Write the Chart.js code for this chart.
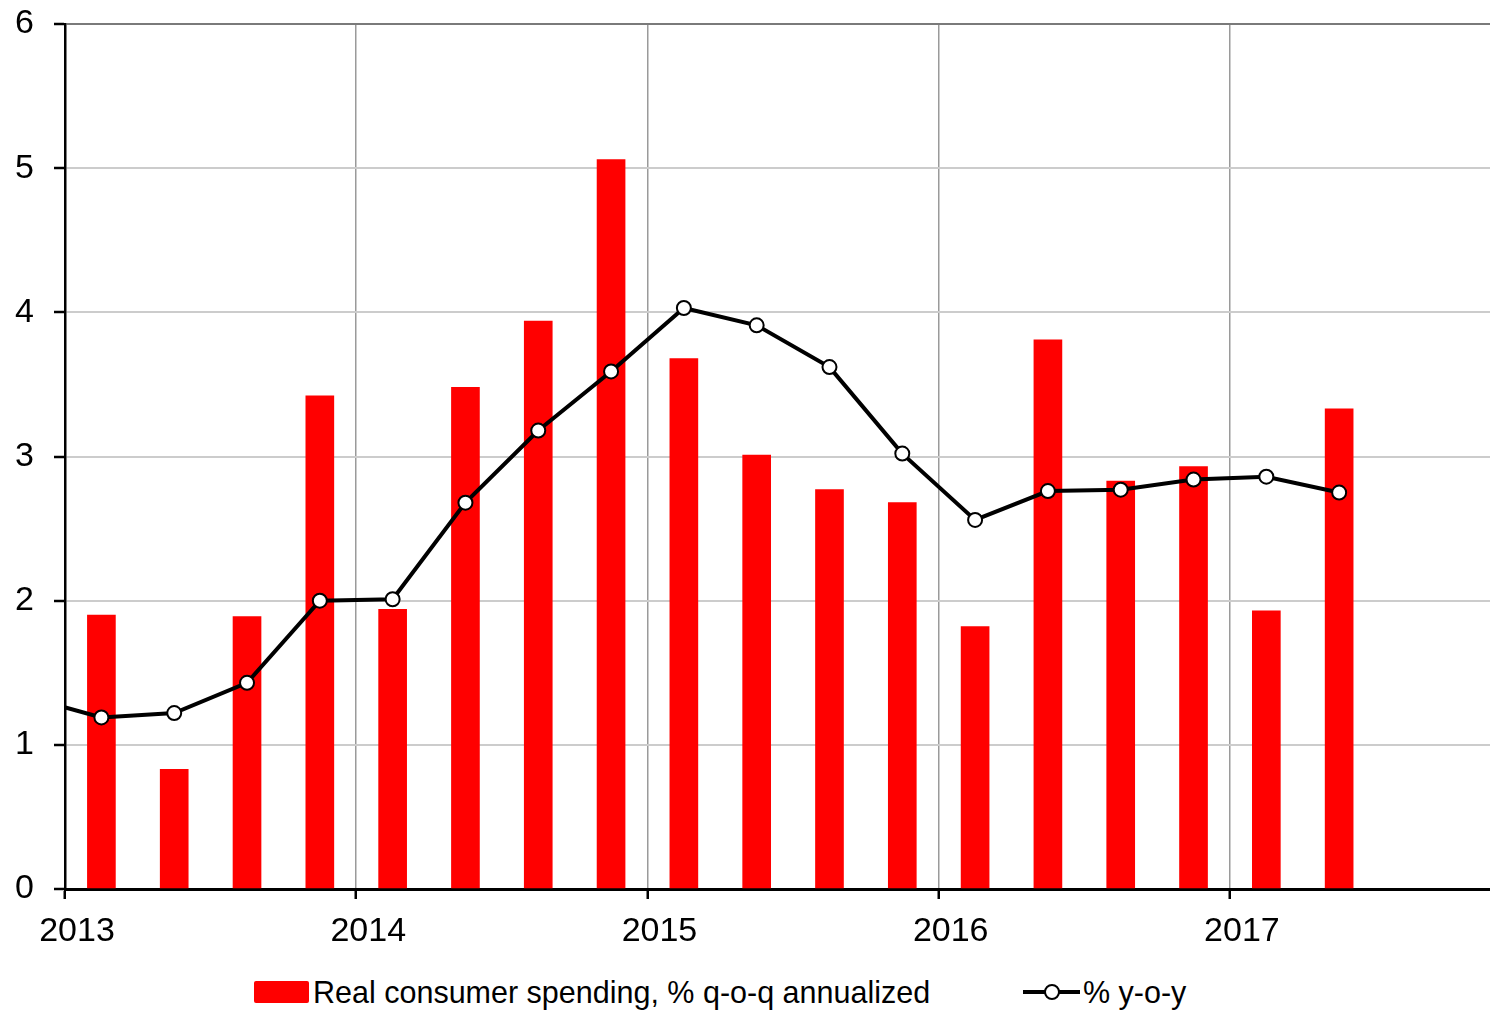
<!DOCTYPE html>
<html>
<head>
<meta charset="utf-8">
<script src="https://cdn.jsdelivr.net/npm/chart.js@4/dist/chart.umd.min.js"></script>
<style>
  html, body { margin: 0; padding: 0; background: #fff; }
  #wrap { position: relative; width: 1490px; height: 1015px; }
  #chartBox { position: absolute; left: 0; top: 0; width: 1490px; height: 960px; }
  .legend-item {
    position: absolute; top: 970px; height: 44px;
    display: flex; align-items: center;
    font-family: "Liberation Sans", Arial, sans-serif;
    font-size: 30.5px; color: #000; white-space: nowrap;
  }
  .swatch-bar { width: 55px; height: 22px; background: #ff0000; border-radius: 2px; margin-right: 4px; }
  .swatch-line { position: relative; width: 57px; height: 22px; margin-right: 3px; }
  .swatch-line::before {
    content: ""; position: absolute; left: 0; right: 0; top: 9px; height: 4px; background: #000;
  }
  .swatch-line::after {
    content: ""; position: absolute; left: 21px; top: 3px; width: 12px; height: 12px;
    border: 2px solid #000; border-radius: 50%; background: #fff;
  }
</style>
</head>
<body>
<div id="wrap">
  <div id="chartBox"><canvas id="chart"></canvas></div>
  <div class="legend-item" style="left:254px"><span class="swatch-bar"></span>Real consumer spending, % q-o-q annualized</div>
  <div class="legend-item" style="left:1023px"><span class="swatch-line"></span>% y-o-y</div>
</div>
<script>
const quarters = [
  "2012Q4",
  "2013Q1", "2013Q2", "2013Q3", "2013Q4",
  "2014Q1", "2014Q2", "2014Q3", "2014Q4",
  "2015Q1", "2015Q2", "2015Q3", "2015Q4",
  "2016Q1", "2016Q2", "2016Q3", "2016Q4",
  "2017Q1", "2017Q2"
];
const spendingQoQ = [
  null,
  1.90, 0.83, 1.89, 3.42,
  1.94, 3.48, 3.94, 5.06,
  3.68, 3.01, 2.77, 2.68,
  1.82, 3.81, 2.83, 2.93,
  1.93, 3.33
];
const spendingYoY = [
  1.33,
  1.19, 1.22, 1.43, 2.00,
  2.01, 2.68, 3.18, 3.59,
  4.03, 3.91, 3.62, 3.02,
  2.56, 2.76, 2.77, 2.84,
  2.86, 2.75
];
const yearTicks = [2013, 2014, 2015, 2016, 2017];
const valueTicks = [0, 1, 2, 3, 4, 5, 6];

const FONT = "'Liberation Sans', Arial, sans-serif";

// middle of each quarter on a continuous year axis
function quarterPos(q){
  const [y, n] = q.split("Q");
  return Number(y) + (Number(n) - 0.5) / 4;
}

const barPoints  = quarters.map((q, i) => ({ x: quarterPos(q), y: spendingQoQ[i] })).filter((p) => p.y !== null);
const linePoints = quarters.map((q, i) => ({ x: quarterPos(q), y: spendingYoY[i] }));

new Chart(document.getElementById("chart"), {
  type: "bar",
  data: {
    datasets: [
      {
        type: "line",
        label: "% y-o-y",
        data: linePoints,
        order: 0,
        borderColor: "#000",
        borderWidth: 4,
        pointRadius: 7,
        pointBorderWidth: 2,
        pointBackgroundColor: "#fff",
        pointBorderColor: "#000",
        tension: 0
      },
      {
        type: "bar",
        label: "Real consumer spending, % q-o-q annualized",
        data: barPoints,
        order: 1,
        backgroundColor: "#ff0000",
        borderWidth: 0,
        barThickness: 28
      }
    ]
  },
  options: {
    responsive: true,
    maintainAspectRatio: false,
    animation: false,
    layout: { autoPadding: false, padding: { top: 24, right: 0, bottom: 0, left: 0 } },
    plugins: {
      legend: { display: false },
      tooltip: { enabled: false }
    },
    scales: {
      x: {
        type: "linear",
        offset: false,
        min: 2013,
        max: 2017.893,
        afterBuildTicks: (s) => { s.ticks = yearTicks.map((v) => ({ value: v })); },
        afterFit: (s) => { s.height = 71; s.paddingLeft = 0; s.paddingRight = 0; },
        grid: {
          offset: false,
          color: "#9a9a9a",
          lineWidth: 1.5,
          tickColor: "#000",
          tickWidth: 2.5,
          tickLength: 10
        },
        border: { color: "#000", width: 3 },
        ticks: {
          color: "#000",
          padding: 12,
          labelOffset: 12,
          maxRotation: 0,
          autoSkip: false,
          font: { family: FONT, size: 34 },
          callback: (v) => String(v)
        }
      },
      y: {
        min: 0,
        max: 6,
        afterBuildTicks: (s) => { s.ticks = valueTicks.map((v) => ({ value: v })); },
        afterFit: (s) => { s.width = 65; s.paddingTop = 0; s.paddingBottom = 0; },
        grid: {
          color: (c) => c.tick && c.tick.value === 6 ? "#7a7a7a" : "#cccccc",
          lineWidth: 2,
          tickColor: "#000",
          tickWidth: 2.5,
          tickLength: 11
        },
        border: { color: "#000", width: 2.5 },
        ticks: {
          color: "#000",
          padding: 20,
          font: { family: FONT, size: 34 }
        }
      }
    }
  }
});
</script>
</body>
</html>
